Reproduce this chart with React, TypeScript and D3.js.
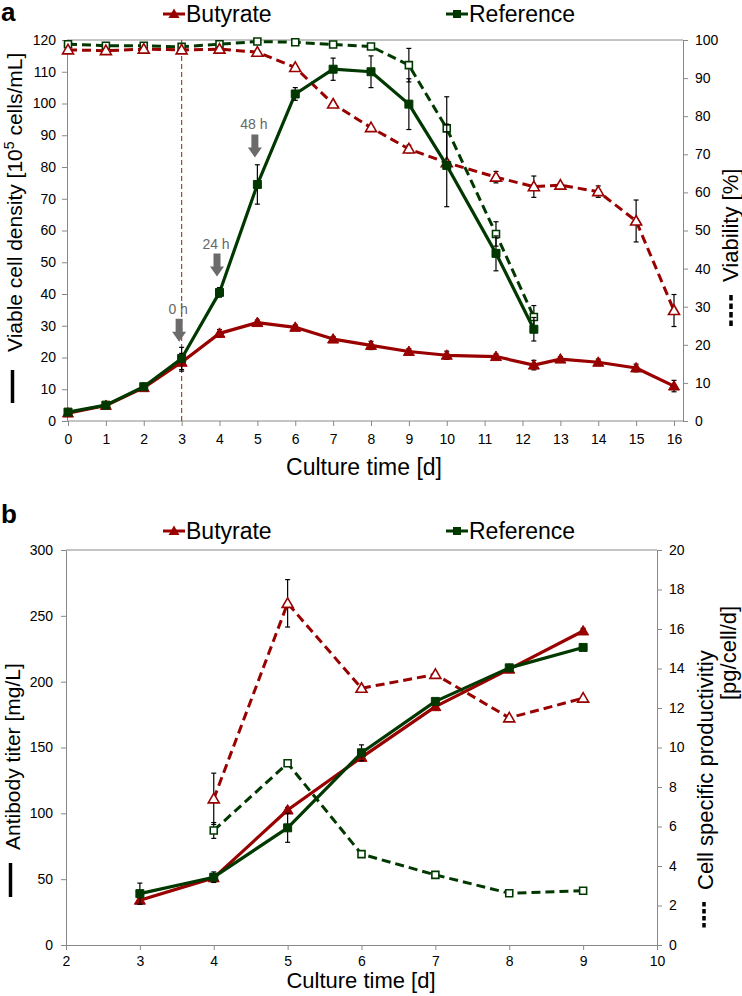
import React, { useEffect, useRef } from 'react';
import * as d3 from 'd3';

// ---- panel a: viable cell density (left) and viability (right) ----
const daysButA = [0, 1, 2, 3, 4, 5, 6, 7, 8, 9, 10, 11.3, 12.3, 13, 14, 15, 16];
const vcdBut = [2.5, 4.9, 10.5, 18.5, 27.6, 31, 29.5, 25.8, 23.8, 21.9, 20.7, 20.3, 17.6, 19.5, 18.5, 16.7, 11];
const vcdButErr = [0.5, 0.5, 0.8, 2.8, 1.2, 0.8, 0.8, 0.8, 1.3, 0.9, 1.3, 0.8, 1.5, 0.8, 1, 1.2, 1.8];
const viaBut = [97.4, 97.2, 97.6, 97.4, 97.6, 96.8, 92.8, 83.2, 77, 71.4, 67.8, 64, 61.5, 61.9, 60.2, 52.5, 29];
const viaButErr = [0, 0, 0, 0, 0, 0, 0, 0, 0, 1, 0, 1.5, 2.8, 0, 1.5, 5.5, 4.2];

const daysRefA = [0, 1, 2, 3, 4, 5, 6, 7, 8, 9, 10, 11.3, 12.3];
const vcdRef = [2.8, 5, 10.8, 19.7, 40.5, 74.5, 103, 110.8, 110, 99.8, 80.5, 52.8, 28.9];
const vcdRefErr = [0.5, 0.5, 0.5, 3.5, 1.5, 6.2, 2, 3.5, 5, 8, 13, 5.5, 3.7];
const viaRef = [98.9, 98.5, 98.5, 98.2, 98.9, 99.6, 99.4, 98.8, 98.3, 93.4, 76.8, 49.1, 27.3];
const viaRefErr = [0, 0, 0, 0, 0, 0, 0, 0, 0, 4.4, 8.3, 3.2, 3];

const xTicksA = d3.range(0, 17);
const yTicksA = d3.range(0, 121, 10);
const y2TicksA = d3.range(0, 101, 10);

const arrowLabels = ['0 h', '24 h', '48 h'];
const arrowDays = [3, 4, 5];
const arrowTips = [25, 45.5, 83];

// ---- panel b: antibody titer (left) and specific productivity (right) ----
const daysB = [3, 4, 5, 6, 7, 8, 9];
const titerBut = [34, 51, 102.5, 142.5, 181, 209.5, 238.5];
const titerButErr = [3, 3, 2, 3, 2, 2, 2];
const titerRef = [39, 51.5, 89, 146, 185, 210.5, 226];
const titerRefErr = [8, 4, 11, 6, 2, 2, 1];

const daysProd = [4, 5, 6, 7, 8, 9];
const prodBut = [7.4, 17.3, 13, 13.7, 11.5, 12.5];
const prodButErr = [1.3, 1.2, 0, 0, 0, 0];
const prodRef = [5.8, 9.2, 4.6, 3.55, 2.62, 2.75];
const prodRefErr = [0.4, 0.15, 0, 0, 0, 0];

const xTicksB = d3.range(2, 11);
const yTicksB = d3.range(0, 301, 50);
const y2TicksB = d3.range(0, 21, 2);

const RED = '#990000';
const GREEN = '#003800';
const AXIS = '#888888';
const FONT = 'Liberation Sans, Arial, sans-serif';

const triPath = 'M0,-5.5L5.5,4L-5.5,4Z';
const sqPath = 'M-4,-4L4,-4L4,4L-4,4Z';
const openSqPath = 'M-3.5,-3.5L3.5,-3.5L3.5,3.5L-3.5,3.5Z';

type Sel = d3.Selection<SVGGElement, unknown, null, undefined>;

function drawSeries(
    g: Sel,
    x: d3.ScaleLinear<number, number>,
    y: d3.ScaleLinear<number, number>,
    xs: number[],
    ys: number[],
    errs: number[],
    color: string,
    dashed: boolean,
    marker: 'tri' | 'sq',
) {
    const pts = xs.map((d, i) => [d, ys[i], errs[i]]);
    const line = d3.line<number[]>().x(d => x(d[0])).y(d => y(d[1]));
    g.append('path')
        .attr('d', line(pts))
        .attr('fill', 'none')
        .attr('stroke', color)
        .attr('stroke-width', dashed ? 3 : 3.2)
        .attr('stroke-dasharray', dashed ? '9,5' : null)
        .attr('stroke-linejoin', 'round');

    const eb = g.append('g').attr('stroke', '#000').attr('stroke-width', 1.2);
    pts.filter(d => d[2] > 0).forEach(d => {
        const cx = x(d[0]);
        const t = y(d[1] + d[2]);
        const b = y(d[1] - d[2]);
        eb.append('line').attr('x1', cx).attr('x2', cx).attr('y1', t).attr('y2', b);
        eb.append('line').attr('x1', cx - 2.5).attr('x2', cx + 2.5).attr('y1', t).attr('y2', t);
        eb.append('line').attr('x1', cx - 2.5).attr('x2', cx + 2.5).attr('y1', b).attr('y2', b);
    });

    g.append('g').selectAll('path')
        .data(pts)
        .enter().append('path')
        .attr('transform', d => `translate(${x(d[0])},${y(d[1])})`)
        .attr('d', marker === 'tri' ? triPath : (dashed ? openSqPath : sqPath))
        .attr('fill', dashed ? '#fff' : color)
        .attr('stroke', color)
        .attr('stroke-width', dashed ? 1.6 : 1);
}

function styleAxis(a: Sel, size: number) {
    a.select('.domain').attr('stroke', AXIS);
    a.selectAll('.tick line').attr('stroke', AXIS);
    a.selectAll('.tick text').attr('fill', '#000').attr('font-size', size).attr('font-family', FONT);
}

function legend(g: Sel, x0: number, y: number, color: string, marker: 'tri' | 'sq', label: string) {
    g.append('line').attr('x1', x0).attr('x2', x0 + 22).attr('y1', y).attr('y2', y)
        .attr('stroke', color).attr('stroke-width', 3);
    g.append('path').attr('transform', `translate(${x0 + 11},${y})`)
        .attr('d', marker === 'tri' ? triPath : sqPath).attr('fill', color);
    g.append('text').attr('x', x0 + 23).attr('y', y + 8).attr('font-size', 23)
        .attr('font-family', FONT).text(label);
}

function vTitle(g: Sel, x: number, y: number, text: string, size = 22) {
    return g.append('text')
        .attr('transform', `translate(${x},${y}) rotate(-90)`)
        .attr('font-size', size).attr('font-family', FONT).text(text);
}

const App: React.FC = () => {
    const ref = useRef<SVGSVGElement>(null);

    useEffect(() => {
        const svg = d3.select(ref.current);
        svg.selectAll('*').remove();
        const root = svg.append('g') as unknown as Sel;

        // ================= panel a =================
        const A = { left: 67, right: 683, top: 40, bottom: 421 };
        const xA = d3.scaleLinear().domain([0, 16]).range([68, 674]);
        const yA = d3.scaleLinear().domain([0, 120]).range([A.bottom, A.top]);
        const y2A = d3.scaleLinear().domain([0, 100]).range([A.bottom, A.top]);

        root.append('line').attr('x1', A.left).attr('x2', A.right).attr('y1', A.top).attr('y2', A.top)
            .attr('stroke', AXIS);
        const axL = root.append('g').attr('transform', `translate(${A.left},0)`)
            .call(d3.axisLeft(yA).tickValues(yTicksA).tickSize(5).tickPadding(6).tickSizeOuter(0));
        styleAxis(axL, 14);
        const axR = root.append('g').attr('transform', `translate(${A.right},0)`)
            .call(d3.axisRight(y2A).tickValues(y2TicksA).tickSize(5).tickPadding(7).tickSizeOuter(0));
        styleAxis(axR, 14);
        const axB = root.append('g').attr('transform', `translate(0,${A.bottom})`)
            .call(d3.axisBottom(xA).tickValues(xTicksA).tickSize(5).tickPadding(8).tickSizeOuter(0));
        axB.select('.domain').attr('d', `M${A.left},0H${A.right}`);
        styleAxis(axB, 14);

        // start of butyrate treatment
        root.append('line').attr('x1', xA(3)).attr('x2', xA(3)).attr('y1', A.top).attr('y2', A.bottom)
            .attr('stroke', '#c0392b').attr('stroke-width', 1.2).attr('stroke-dasharray', '5,3');

        drawSeries(root, xA, y2A, daysRefA, viaRef, viaRefErr, GREEN, true, 'sq');
        drawSeries(root, xA, y2A, daysButA, viaBut, viaButErr, RED, true, 'tri');
        drawSeries(root, xA, yA, daysButA, vcdBut, vcdButErr, RED, false, 'tri');
        drawSeries(root, xA, yA, daysRefA, vcdRef, vcdRefErr, GREEN, false, 'sq');

        // sampling arrows
        arrowLabels.forEach((lab, i) => {
            const cx = xA(arrowDays[i]) - 2.5;
            const tip = yA(arrowTips[i]);
            const top = tip - 23;
            root.append('path')
                .attr('d', `M${cx - 3.5},${top}H${cx + 3.5}V${tip - 10}H${cx + 7}L${cx},${tip}L${cx - 7},${tip - 10}H${cx - 3.5}Z`)
                .attr('fill', '#6b6b6b');
            root.append('text').attr('x', cx - 1).attr('y', top - 5).attr('text-anchor', 'middle')
                .attr('font-size', 14).attr('font-family', FONT).attr('fill', '#666').text(lab);
        });

        legend(root, 163, 14, RED, 'tri', 'Butyrate');
        legend(root, 446, 14, GREEN, 'sq', 'Reference');

        root.append('text').attr('x', 1).attr('y', 21).attr('font-size', 26).attr('font-weight', 'bold')
            .attr('font-family', FONT).text('a');
        root.append('text').attr('x', 364).attr('y', 475).attr('text-anchor', 'middle')
            .attr('font-size', 23).attr('font-family', FONT).text('Culture time [d]');

        root.append('line').attr('x1', 12.5).attr('x2', 12.5).attr('y1', 370).attr('y2', 403)
            .attr('stroke', '#000').attr('stroke-width', 3.5);
        const tA = vTitle(root, 22, 352, '', 21);
        tA.append('tspan').text('Viable cell density [10');
        tA.append('tspan').attr('dy', -8).attr('font-size', 14).text('5');
        tA.append('tspan').attr('dy', 8).text(' cells/mL]');

        root.append('line').attr('x1', 731).attr('x2', 731).attr('y1', 295).attr('y2', 328)
            .attr('stroke', '#000').attr('stroke-width', 3.5).attr('stroke-dasharray', '5.5,3');
        vTitle(root, 738, 282, 'Viability [%]');

        // ================= panel b =================
        const B = { left: 66, right: 657, top: 550, bottom: 945 };
        const xB = d3.scaleLinear().domain([2, 10]).range([B.left, B.right]);
        const yB = d3.scaleLinear().domain([0, 300]).range([B.bottom, B.top]);
        const y2B = d3.scaleLinear().domain([0, 20]).range([B.bottom, B.top]);

        root.append('line').attr('x1', B.left).attr('x2', B.right).attr('y1', B.top).attr('y2', B.top)
            .attr('stroke', AXIS);
        const bL = root.append('g').attr('transform', `translate(${B.left},0)`)
            .call(d3.axisLeft(yB).tickValues(yTicksB).tickSize(5).tickPadding(8).tickSizeOuter(0));
        styleAxis(bL, 14);
        const bR = root.append('g').attr('transform', `translate(${B.right},0)`)
            .call(d3.axisRight(y2B).tickValues(y2TicksB).tickSize(5).tickPadding(7).tickSizeOuter(0));
        styleAxis(bR, 14);
        const bB = root.append('g').attr('transform', `translate(0,${B.bottom})`)
            .call(d3.axisBottom(xB).tickValues(xTicksB).tickSize(5).tickPadding(6).tickSizeOuter(0));
        styleAxis(bB, 14);

        drawSeries(root, xB, y2B, daysProd, prodBut, prodButErr, RED, true, 'tri');
        drawSeries(root, xB, y2B, daysProd, prodRef, prodRefErr, GREEN, true, 'sq');
        drawSeries(root, xB, yB, daysB, titerBut, titerButErr, RED, false, 'tri');
        drawSeries(root, xB, yB, daysB, titerRef, titerRefErr, GREEN, false, 'sq');

        legend(root, 163, 531, RED, 'tri', 'Butyrate');
        legend(root, 446, 531, GREEN, 'sq', 'Reference');

        root.append('text').attr('x', 1).attr('y', 523).attr('font-size', 26).attr('font-weight', 'bold')
            .attr('font-family', FONT).text('b');
        root.append('text').attr('x', 361).attr('y', 988).attr('text-anchor', 'middle')
            .attr('font-size', 22).attr('font-family', FONT).text('Culture time [d]');

        root.append('line').attr('x1', 10.5).attr('x2', 10.5).attr('y1', 863).attr('y2', 897)
            .attr('stroke', '#000').attr('stroke-width', 3.5);
        vTitle(root, 20, 850, 'Antibody titer [mg/L]', 21);

        root.append('line').attr('x1', 704).attr('x2', 704).attr('y1', 902).attr('y2', 928)
            .attr('stroke', '#000').attr('stroke-width', 3.5).attr('stroke-dasharray', '4.5,2.5');
        vTitle(root, 713, 890, 'Cell specific productivitiy');
        vTitle(root, 736, 700, '[pg/cell/d]');
    }, []);

    return (
        <svg ref={ref} width={742} height={996}
            style={{ position: 'absolute', left: 0, top: 0, background: '#fff' }} />
    );
};

export default App;
